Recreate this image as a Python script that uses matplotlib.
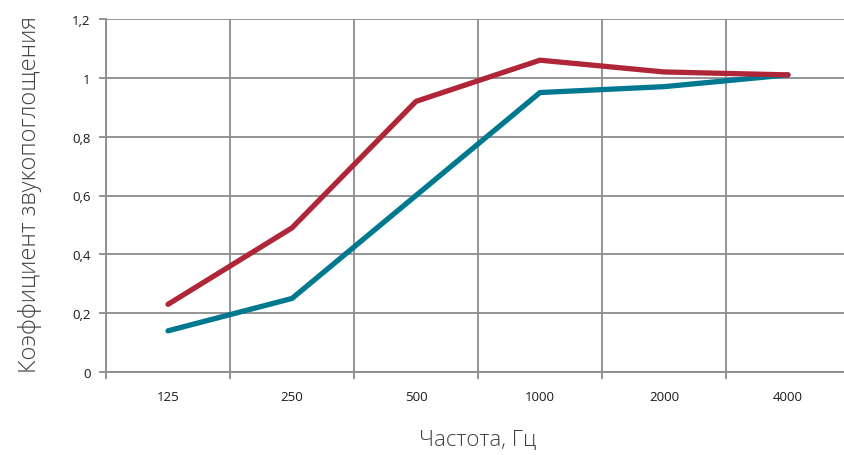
import matplotlib
matplotlib.use("Agg")
import matplotlib.pyplot as plt
import numpy as np

categories = ["125", "250", "500", "1000", "2000", "4000"]
series_red = [0.23, 0.49, 0.92, 1.06, 1.02, 1.01]
series_teal = [0.14, 0.25, 0.60, 0.95, 0.97, 1.01]
y_ticks = [0, 0.2, 0.4, 0.6, 0.8, 1.0, 1.2]
y_tick_labels = ["0", "0,2", "0,4", "0,6", "0,8", "1", "1,2"]

W, H = 844, 456
fig = plt.figure(figsize=(W/100, H/100), dpi=100)
ax = fig.add_axes([106/W, (H-373)/H, 744/W, 353/H])

x = np.arange(len(categories))
grid_c = "#8c8c8c"
ax.plot(x, series_teal, color="#00788F", lw=3.8, solid_capstyle="round", solid_joinstyle="round", zorder=3)
ax.plot(x, series_red, color="#AE2637", lw=3.8, solid_capstyle="round", solid_joinstyle="round", zorder=4)

ax.set_xlim(-0.5, len(categories)-0.5)
ax.set_ylim(0, 1.2)
ax.set_xticks(x)
ax.set_xticklabels(categories, fontfamily="Open Sans", fontsize=9.5, color="#1a1a1a")
ax.set_xticks(np.arange(len(categories)+1)-0.5, minor=True)
ax.tick_params(axis="x", which="major", length=0, pad=13)
ax.tick_params(axis="x", which="minor", length=5, width=1.3, color=grid_c, direction="out")
ax.set_yticks(y_ticks)
ax.set_yticklabels(y_tick_labels, fontfamily="Open Sans", fontsize=9.5, color="#1a1a1a")
ax.tick_params(axis="y", length=5, width=1.3, color=grid_c, direction="out", pad=6)

ax.grid(True, axis="y", which="major", color=grid_c, lw=1.3)
ax.grid(True, axis="x", which="minor", color=grid_c, lw=1.3)
ax.grid(False, axis="x", which="major")
ax.set_axisbelow(True)
for s in ["top", "right"]:
    ax.spines[s].set_visible(False)
for s in ["left", "bottom"]:
    ax.spines[s].set_color(grid_c)
    ax.spines[s].set_linewidth(1.3)

fig.text(30/W, 1-195/H, "Коэффициент звукопоглощения", rotation=90, ha="center", va="center",
         fontfamily="Open Sans", fontweight="light", fontsize=17, color="#404040")
fig.text(478/W, 1-441/H, "Частота, Гц", ha="center", va="center",
         fontfamily="Open Sans", fontweight="light", fontsize=16, color="#404040")

fig.savefig("out.png", dpi=100)
